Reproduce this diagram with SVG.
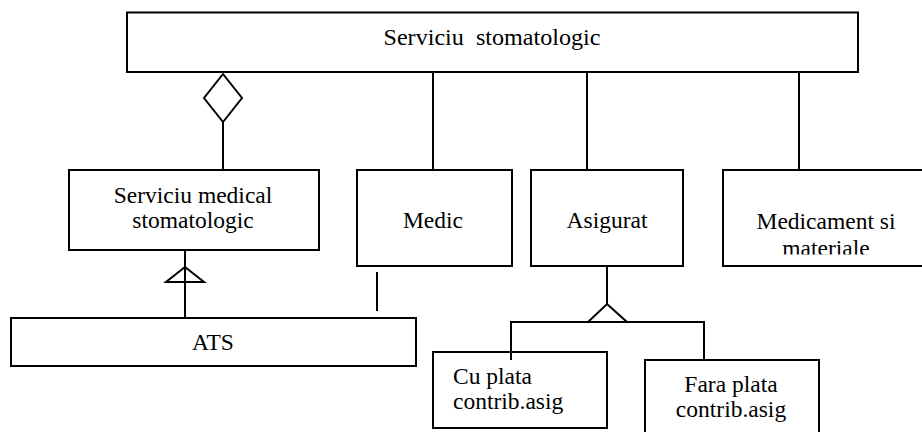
<svg xmlns="http://www.w3.org/2000/svg" width="922" height="432" viewBox="0 0 922 432">
  <style>
    .box { fill: #fff; stroke: #000; stroke-width: 2; }
    .ln { fill: none; stroke: #000; stroke-width: 2; }
    .head { fill: #fff; stroke: #000; stroke-width: 2; stroke-linejoin: miter; }
    text { font-family: "Liberation Serif", "Times New Roman", serif; font-size: 23.5px; fill: #000; }
    .c { text-anchor: middle; }
  </style>
  <defs>
    <clipPath id="clipMed">
      <rect x="723" y="170" width="210" height="84.5"/>
    </clipPath>
  </defs>

  <g id="connectors">
    <!-- aggregation: Serviciu medical stomatologic -> Serviciu stomatologic -->
    <line class="ln" x1="223" y1="122" x2="223" y2="170"/>
    <polygon class="head" points="223,74 242,98 223,122 204,98"/>
    <!-- associations from the top class -->
    <line class="ln" x1="433" y1="72" x2="433" y2="170"/>
    <line class="ln" x1="587" y1="72" x2="587" y2="170"/>
    <line class="ln" x1="799" y1="72" x2="799" y2="170"/>
    <!-- ATS generalization -->
    <line class="ln" x1="185" y1="250" x2="185" y2="318"/>
    <polygon class="head" points="185,267 204,282 166,282" fill="none" style="fill:none"/>
    <!-- ATS - Medic -->
    <line class="ln" x1="377" y1="272" x2="377" y2="311"/>
    <!-- Asigurat generalization -->
    <line class="ln" x1="607" y1="263" x2="607" y2="304"/>
    <polygon class="head" points="607,304 627,322 588,322"/>
    <polyline class="ln" points="511,360 511,322 704,322 704,360"/>
  </g>

  <g id="serviciu-stomatologic">
    <rect class="box" x="127" y="12.5" width="731" height="59.5"/>
    <text class="c" x="492" y="45" xml:space="preserve" textLength="217" lengthAdjust="spacingAndGlyphs">Serviciu  stomatologic</text>
  </g>

  <g id="serviciu-medical">
    <rect class="box" x="69" y="170" width="250" height="80"/>
    <text class="c" x="193" y="203">Serviciu medical</text>
    <text class="c" x="193" y="228">stomatologic</text>
  </g>

  <g id="medic">
    <rect class="box" x="357" y="170" width="155" height="96"/>
    <text class="c" x="433" y="228">Medic</text>
  </g>

  <g id="asigurat">
    <rect class="box" x="531" y="170" width="152" height="96"/>
    <text class="c" x="607" y="228">Asigurat</text>
  </g>

  <g id="medicament">
    <rect class="box" x="723" y="170" width="210" height="96"/>
    <g clip-path="url(#clipMed)">
      <text class="c" x="826" y="229">Medicament si</text>
      <text class="c" x="826" y="256">materiale</text>
    </g>
  </g>

  <g id="ats">
    <rect class="box" x="11" y="318" width="405" height="48"/>
    <text class="c" x="213" y="350">ATS</text>
  </g>

  <g id="cu-plata">
    <rect class="box" x="433" y="352" width="174" height="76"/>
    <line class="ln" x1="511" y1="352" x2="511" y2="360"/>
    <text x="453" y="384">Cu plata</text>
    <text x="453" y="409">contrib.asig</text>
  </g>

  <g id="fara-plata">
    <rect class="box" x="645" y="360" width="174" height="90"/>
    <text class="c" x="731" y="392">Fara plata</text>
    <text class="c" x="731" y="417">contrib.asig</text>
  </g>
</svg>
